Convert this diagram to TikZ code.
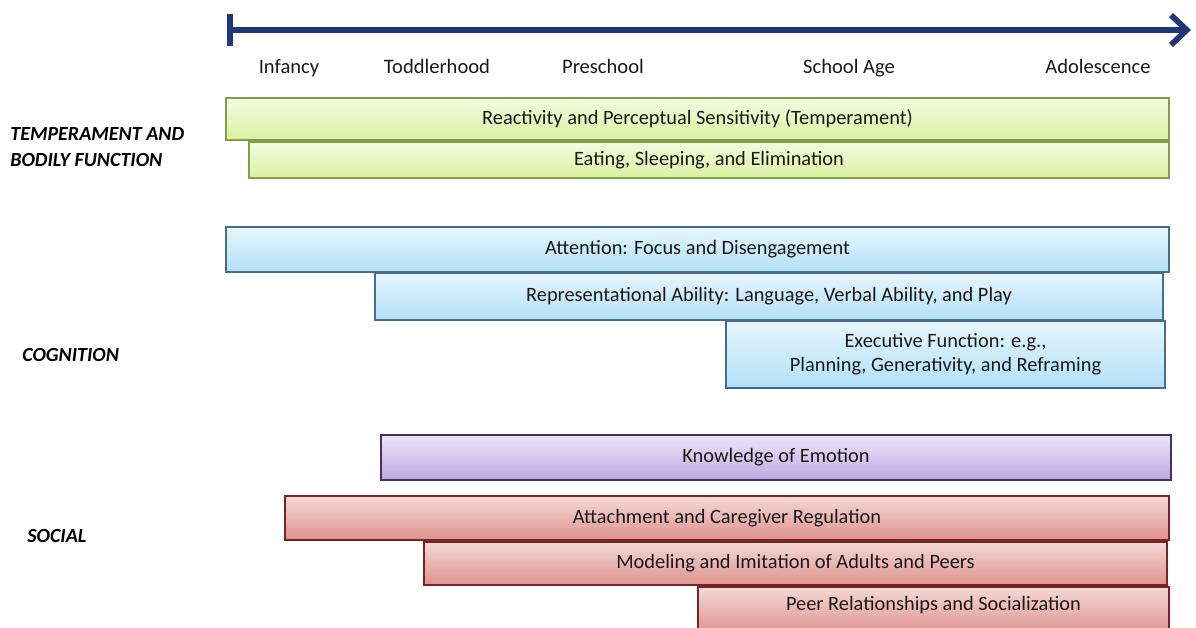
\documentclass[tikz,border=0pt]{standalone}
\usepackage{fontspec}
\setmainfont{Carlito}
\usetikzlibrary{arrows.meta}

\definecolor{axisblue}{RGB}{33,55,122}
\definecolor{greenline}{RGB}{128,160,72}
\definecolor{greentop}{RGB}{244,251,226}
\definecolor{greenbot}{RGB}{218,242,160}
\definecolor{blueline}{RGB}{70,110,140}
\definecolor{bluetop}{RGB}{232,246,253}
\definecolor{bluebot}{RGB}{178,224,248}
\definecolor{purpleline}{RGB}{64,52,96}
\definecolor{purpletop}{RGB}{236,230,246}
\definecolor{purplebot}{RGB}{190,168,226}
\definecolor{redline}{RGB}{120,36,36}
\definecolor{redtop}{RGB}{244,216,214}
\definecolor{redbot}{RGB}{222,146,142}

\begin{document}
\begin{tikzpicture}[x=0.02cm,y=-0.02cm,
	bar/.style={line width=0.7pt, font=\fontsize{11.6}{13.6}\selectfont, text=black!90},
	greenbar/.style={bar, draw=greenline, top color=greentop, bottom color=greenbot},
	bluebar/.style={bar, draw=blueline, top color=bluetop, bottom color=bluebot},
	purplebar/.style={bar, draw=purpleline, top color=purpletop, bottom color=purplebot},
	redbar/.style={bar, draw=redline, top color=redtop, bottom color=redbot},
	stage/.style={anchor=base, font=\fontsize{11.7}{13.6}\selectfont, text=black!90},
	area/.style={anchor=west, align=left, inner sep=0pt, font=\fontsize{11.4}{14.7}\selectfont\bfseries\itshape},
	timeline/.style={draw=axisblue, line width=3.3pt, {Bar[width=18pt]}-{Straight Barb[length=9pt,width=17pt]}}]

	\useasboundingbox (0,0) rectangle (1196,628);

	%---------------------
	% time axis
	%---------------------
	\coordinate (start) at (227,30);
	\coordinate (end) at (1191,30);
	\draw[timeline] (start) -- (end);

	\node[stage] (infancy) at (289,74) {Infancy};
	\node[stage] (toddler) at (437,74) {Toddlerhood};
	\node[stage] (preschool) at (603,74) {Preschool};
	\node[stage] (school) at (849,74) {School Age};
	\node[stage] (adolescence) at (1098,74) {Adolescence};

	%---------------------
	% temperament
	%---------------------
	\node[area] (temp) at (10,147) {TEMPERAMENT AND\\BODILY FUNCTION};
	\draw[greenbar] (226,98) rectangle (1169,140) node[midway] (react) {Reactivity and Perceptual Sensitivity (Temperament)};
	\draw[greenbar] (249,142) rectangle (1169,178) node[midway] (eating) {Eating, Sleeping, and Elimination};

	%---------------------
	% cognition
	%---------------------
	\node[area] (cogn) at (22,355) {COGNITION};
	\draw[bluebar] (226,227) rectangle (1169,272) node[midway] (attention) {Attention: Focus and Disengagement};
	\draw[bluebar] (375,273) rectangle (1163,320) node[midway] (repr) {Representational Ability: Language, Verbal Ability, and Play};
	\draw[bluebar] (726,321) rectangle (1165,388) node[midway, align=center] (exec) {Executive Function: e.g.,\\Planning, Generativity, and Reframing};

	%---------------------
	% social
	%---------------------
	\node[area] (social) at (27,536) {SOCIAL};
	\draw[purplebar] (381,435) rectangle (1171,480) node[midway] (emotion) {Knowledge of Emotion};
	\draw[redbar] (285,496) rectangle (1169,540) node[midway] (attach) {Attachment and Caregiver Regulation};
	\draw[redbar] (424,542) rectangle (1167,585) node[midway] (model) {Modeling and Imitation of Adults and Peers};
	\draw[redbar] (698,587) rectangle (1169,634) node[midway, yshift=3pt] (peer) {Peer Relationships and Socialization};

\end{tikzpicture}
\end{document}
